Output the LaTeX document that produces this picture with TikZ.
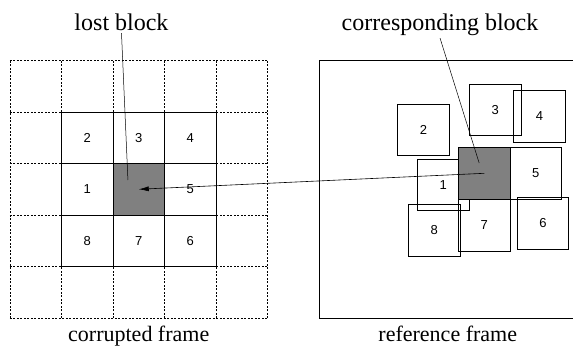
\documentclass[tikz,border=0pt]{standalone}
\usepackage{fontspec}
\setmainfont{Liberation Serif}
\newfontfamily\numfont{Liberation Sans}
\usetikzlibrary{arrows.meta}

\begin{document}
\begin{tikzpicture}[
  x=51.5pt, y=51.5pt,
  blk/.style={draw, line width=0.7pt, minimum size=51.5pt, inner sep=0pt,
    font=\numfont\fontsize{13}{15}\selectfont},
  lostblk/.style={blk, fill=gray},
  cellline/.style={line width=0.6pt, dash pattern=on 2pt off 1.5pt},
  tag/.style={font=\fontsize{24}{28}\selectfont, inner sep=2pt, anchor=base},
  caption/.style={font=\fontsize{22}{26}\selectfont, anchor=base},
  arr/.style={-{Latex[length=10pt, width=5pt]}, line width=0.6pt}
]
  \useasboundingbox (-0.194,-0.544) rectangle (10.932,6.175);

  % corrupted frame, 5x5 blocks
  \draw[cellline, step={(1,1)}] (0,0) grid (5,5);
  \foreach \n/\c/\r in {2/1/3, 3/2/3, 4/3/3, 1/1/2, 5/3/2, 8/1/1, 7/2/1, 6/3/1}
    \node[blk] (c\n) at (\c+0.5,\r+0.5) {\n};
  \node[lostblk] (lost) at (2.5,2.5) {};

  % reference frame (runs off to the right)
  \draw[line width=0.7pt] (10.932,0) -- (6,0) -- (6,5) -- (10.932,5);
  \node[blk] (r2) at (8.03,3.65) {2};
  \node[blk] (r3) at (9.42,4.04) {3};
  \node[blk] (r4) at (10.28,3.92) {4};
  \node[blk] (r5) at (10.21,2.81) {5};
  \node[blk] (r1) at (8.41,2.59) {1};
  \node[blk] (r8) at (8.24,1.70) {8};
  \node[blk] (r7) at (9.21,1.80) {7};
  \node[blk] (r6) at (10.35,1.84) {6};
  \node[lostblk] (corr) at (9.21,2.81) {};

  % labels
  \node[tag] (lostlbl) at (2.165,5.579) {lost block};
  \node[tag] (corrlbl) at (8.35,5.579) {corresponding block};
  \coordinate (lostpt) at (2.29,2.68);
  \coordinate (corrpt) at (9.11,3.01);
  \draw[line width=0.5pt] (lostlbl.south) -- (lostpt);
  \draw[line width=0.5pt] (corrlbl.south) -- (corrpt);

  \draw[arr] (corr.center) -- (lost.center);

  \node[caption] (cfcap) at (2.5,-0.456) {corrupted frame};
  \node[caption] (rfcap) at (8.5,-0.456) {reference frame};
\end{tikzpicture}
\end{document}
